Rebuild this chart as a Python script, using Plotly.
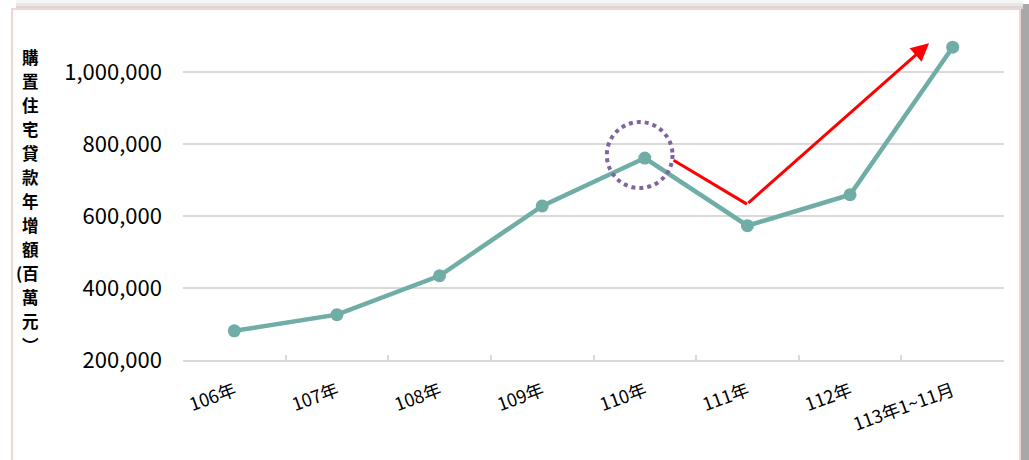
import plotly.graph_objects as go

categories = ["106年", "107年", "108年", "109年", "110年", "111年", "112年", "113年1~11月"]
loan_increase = [281000, 326000, 434000, 628000, 761000, 573000, 659000, 1069000]
y_ticks = [200000, 400000, 600000, 800000, 1000000]
y_title_rows = ["購", "置", "住", "宅", "貸", "款", "年", "增", "額", "(百", "萬", "元", "︶"]

W, H = 1029, 460
L, R, T, B = 183, 25, 36, 100
PW, PH = W - L - R, H - T - B


def px_x(px):
    return (px - L) / PW


def px_y(py):
    return (H - B - py) / PH


fig = go.Figure()

fig.add_trace(go.Scatter(
    x=categories, y=loan_increase, mode="lines+markers",
    line=dict(color="#6fada6", width=4.5),
    marker=dict(color="#6fada6", size=13),
    showlegend=False, hoverinfo="skip",
))

# red trend arrow (decoration)
arrow_start = (4.28, 755000)
arrow_turn = (4.995, 633000)
arrow_tip = (6.77, 1080000)
fig.add_shape(type="line", xref="x", yref="y",
              x0=arrow_start[0], y0=arrow_start[1], x1=arrow_turn[0], y1=arrow_turn[1],
              line=dict(color="#ff0000", width=3))
fig.add_annotation(x=arrow_tip[0], y=arrow_tip[1], ax=arrow_turn[0], ay=arrow_turn[1],
                   xref="x", yref="y", axref="x", ayref="y", text="",
                   showarrow=True, arrowhead=2, arrowsize=1.2, arrowwidth=3,
                   arrowcolor="#ff0000", standoff=0, startstandoff=0)

# dotted circle highlighting 110年
fig.add_shape(type="circle", xref="x", yref="y",
              x0=3.63, x1=4.27, y0=677700, y1=861100,
              line=dict(color="#8064a2", width=4, dash="dot"))

# frame & shadow
fig.add_shape(type="rect", xref="paper", yref="paper", layer="below",
              x0=px_x(1021), x1=px_x(1029), y0=px_y(470), y1=px_y(4),
              fillcolor="#a8a8a8", line=dict(width=0))
for (ya, yb, col) in [(0, 3, "#f6f6f6"), (3, 6, "#e8e8e8"), (6, 9, "#d8d8d8")]:
    fig.add_shape(type="rect", xref="paper", yref="paper", layer="below",
                  x0=px_x(16), x1=px_x(1023), y0=px_y(yb), y1=px_y(ya),
                  fillcolor=col, line=dict(width=0))
fig.add_shape(type="rect", xref="paper", yref="paper", layer="below",
              x0=px_x(12), x1=px_x(1020), y0=px_y(470), y1=px_y(9),
              fillcolor="white", line=dict(color="#f2d5d3", width=2))

# vertical (stacked) axis title
for i, ch in enumerate(y_title_rows):
    fig.add_annotation(
        xref="paper", yref="paper", x=px_x(40), y=px_y(57 + i * 24),
        text="<b>%s</b>" % ch, showarrow=False,
        xanchor="right", yanchor="middle", borderpad=0,
        font=dict(family="Noto Sans CJK TC", size=16.5, color="#000000"),
    )

fig.update_layout(
    width=W, height=H,
    margin=dict(l=L, r=R, t=T, b=B),
    paper_bgcolor="white", plot_bgcolor="white",
    font=dict(family="Noto Sans CJK TC", color="#000000"),
    xaxis=dict(
        type="category", range=[-0.5, 7.5],
        showline=True, linecolor="#d9d9d9", linewidth=1.5,
        ticks="inside", ticklen=5, tickcolor="#d9d9d9", tickwidth=1.5,
        tickson="boundaries", showgrid=False,
        tickangle=-20, tickfont=dict(size=18), ticklabelstandoff=12,
    ),
    yaxis=dict(
        range=[200000, 1100000], tickvals=y_ticks, tickformat=",d",
        showgrid=True, gridcolor="#d9d9d9", gridwidth=1.5,
        zeroline=False, showline=False,
        tickfont=dict(size=22), ticklabelstandoff=20,
    ),
)

fig.write_html("out.html", config={"displayModeBar": False},
               post_script="document.body.style.margin='0';")
